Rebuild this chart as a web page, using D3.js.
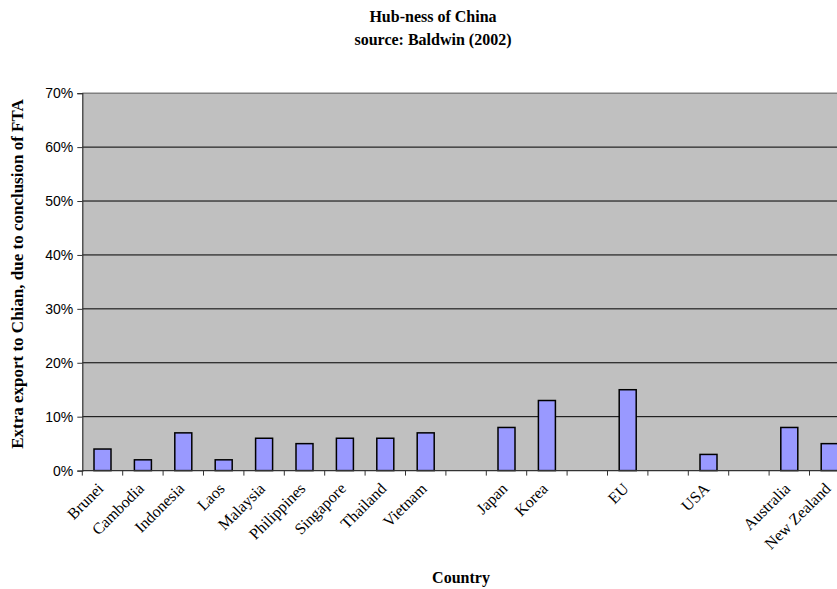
<!DOCTYPE html>
<html>
<head>
<meta charset="utf-8">
<script src="https://cdn.jsdelivr.net/npm/d3@7"></script>
<style>
  html, body { margin: 0; padding: 0; background: #fff; }
  svg { display: block; }
</style>
</head>
<body>
<svg id="chart" width="837" height="589"></svg>
<script>
// Categories in axis order; empty strings are spacer slots between groups
const categories = ["Brunei", "Cambodia", "Indonesia", "Laos", "Malaysia", "Philippines",
  "Singapore", "Thailand", "Vietnam", "", "Japan", "Korea", "", "EU", "", "USA", "",
  "Australia", "New Zealand"];
// Extra export share (fraction); null where a slot is empty
const values = [0.04, 0.02, 0.07, 0.02, 0.06, 0.05, 0.06, 0.06, 0.07, null, 0.08, 0.13,
  null, 0.15, null, 0.03, null, 0.08, 0.05];
const yTicks = [0, 0.1, 0.2, 0.3, 0.4, 0.5, 0.6, 0.7];

const svg = d3.select("#chart");
const plotLeft = 82.3, plotTop = 93.2, plotBottom = 470.6;
const slot = 40.4;
const plotRight = plotLeft + slot * categories.length;

const x = d3.scaleBand()
  .domain(d3.range(categories.length))
  .range([plotLeft, plotRight])
  .paddingInner(0)
  .paddingOuter(0);
const y = d3.scaleLinear().domain([0, 0.7]).range([plotBottom, plotTop]);

const serif = "'Liberation Serif', 'Times New Roman', serif";
const sans = "'Liberation Sans', Arial, sans-serif";

// Plot area
svg.append("rect")
  .attr("x", plotLeft).attr("y", plotTop)
  .attr("width", plotRight - plotLeft).attr("height", plotBottom - plotTop)
  .attr("fill", "#c0c0c0");

// Gridlines
svg.append("g")
  .selectAll("line")
  .data(yTicks.filter(t => t > 0 && t < 0.7))
  .join("line")
  .attr("x1", plotLeft).attr("x2", plotRight)
  .attr("y1", d => y(d)).attr("y2", d => y(d))
  .attr("stroke", "#000").attr("stroke-width", 1);

// Top border of plot area
svg.append("line")
  .attr("x1", plotLeft).attr("x2", plotRight)
  .attr("y1", plotTop).attr("y2", plotTop)
  .attr("stroke", "#808080").attr("stroke-width", 1.5);

// Bars
const barW = 17;
svg.append("g")
  .selectAll("rect")
  .data(values.map((v, i) => ({ v, i })).filter(d => d.v !== null))
  .join("rect")
  .attr("x", d => x(d.i) + x.bandwidth() / 2 - barW / 2)
  .attr("y", d => y(d.v))
  .attr("width", barW)
  .attr("height", d => y(0) - y(d.v))
  .attr("fill", "#9999ff")
  .attr("stroke", "#000")
  .attr("stroke-width", 1.5);

// Y axis
const yAxis = d3.axisLeft(y)
  .tickValues(yTicks)
  .tickFormat(d3.format(".0%"))
  .tickSize(5)
  .tickPadding(4);
const gy = svg.append("g")
  .attr("transform", `translate(${plotLeft},0)`)
  .call(yAxis);
gy.select(".domain").attr("stroke", "#333").attr("stroke-width", 1.2);
gy.selectAll(".tick line").attr("stroke", "#333");
gy.selectAll(".tick text")
  .attr("font-family", sans)
  .attr("font-size", 14)
  .attr("fill", "#000");

// X axis: ticks at slot boundaries
const gx = svg.append("g");
gx.append("line")
  .attr("x1", plotLeft).attr("x2", plotRight)
  .attr("y1", plotBottom).attr("y2", plotBottom)
  .attr("stroke", "#333").attr("stroke-width", 1.2);
gx.selectAll("line.tick")
  .data(d3.range(categories.length + 1))
  .join("line")
  .attr("class", "tick")
  .attr("x1", i => plotLeft + i * x.bandwidth())
  .attr("x2", i => plotLeft + i * x.bandwidth())
  .attr("y1", plotBottom).attr("y2", plotBottom + 5)
  .attr("stroke", "#333");

gx.selectAll("text")
  .data(categories.map((c, i) => ({ c, i })).filter(d => d.c))
  .join("text")
  .attr("transform", d => `translate(${x(d.i) + x.bandwidth() / 2 + 2},${plotBottom + 19}) rotate(-45)`)
  .attr("text-anchor", "end")
  .attr("font-family", serif)
  .attr("font-size", 16)
  .attr("fill", "#000")
  .text(d => d.c);

// Titles
svg.append("text")
  .attr("x", 433).attr("y", 22)
  .attr("text-anchor", "middle")
  .attr("font-family", serif).attr("font-weight", "bold").attr("font-size", 16)
  .text("Hub-ness of China");
svg.append("text")
  .attr("x", 433).attr("y", 45)
  .attr("text-anchor", "middle")
  .attr("font-family", serif).attr("font-weight", "bold").attr("font-size", 16)
  .text("source: Baldwin (2002)");
svg.append("text")
  .attr("x", 461).attr("y", 583)
  .attr("text-anchor", "middle")
  .attr("font-family", serif).attr("font-weight", "bold").attr("font-size", 16)
  .text("Country");
svg.append("text")
  .attr("transform", "translate(23,274) rotate(-90)")
  .attr("text-anchor", "middle")
  .attr("font-family", serif).attr("font-weight", "bold").attr("font-size", 17)
  .text("Extra export to Chian, due to conclusion of FTA");
</script>
</body>
</html>
